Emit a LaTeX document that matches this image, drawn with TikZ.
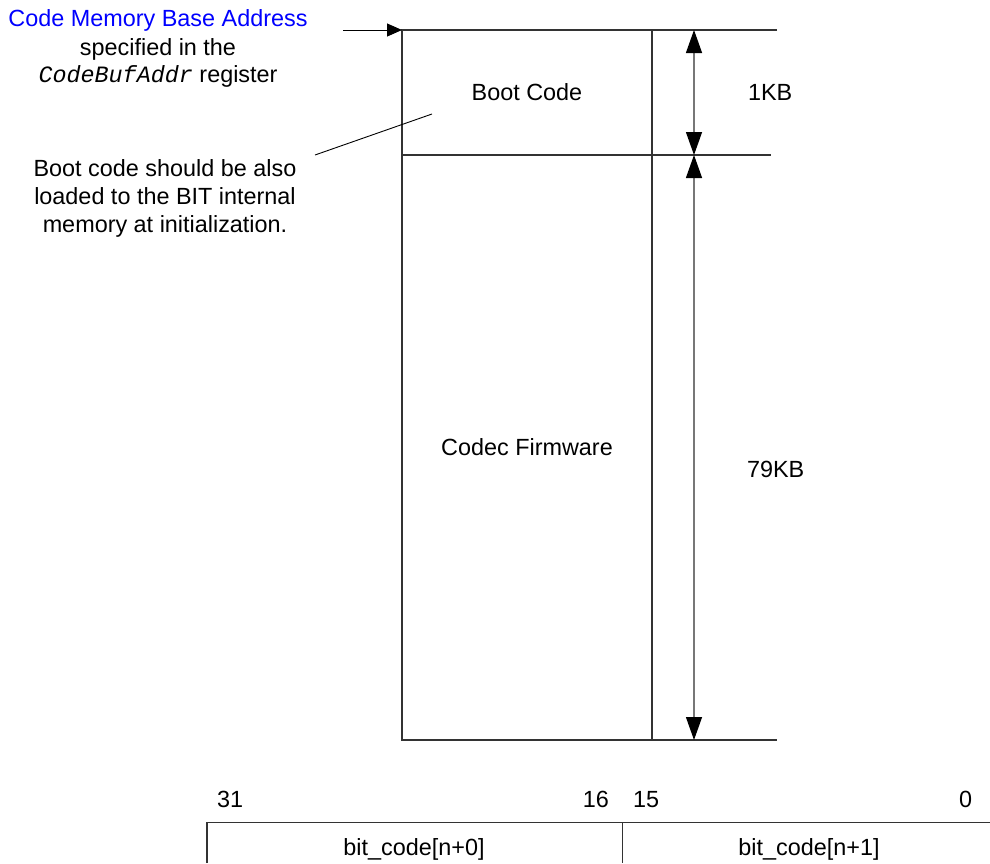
\documentclass[tikz,border=0pt]{standalone}
\usepackage{fontspec}
\setmainfont{Liberation Sans}
\setmonofont{Liberation Mono}
\usetikzlibrary{arrows.meta}
\definecolor{boxline}{HTML}{333333}
\definecolor{dimline}{HTML}{777777}
\definecolor{linkblue}{HTML}{0000FF}
\begin{document}
\begin{tikzpicture}[x=1pt,y=-1pt,
  every node/.style={inner sep=0pt,outer sep=0pt,font=\fontsize{23.4}{28}\selectfont},
  boxln/.style={draw=boxline,line width=1.3pt},
  dimln/.style={draw=dimline,line width=1.3pt,{Triangle[length=23pt,width=16pt,fill=black,color=black]}-{Triangle[length=23pt,width=16pt,fill=black,color=black]}},
  ptrln/.style={draw=black,line width=1pt,-{Triangle[length=15pt,width=13pt]}},
  leadln/.style={draw=black,line width=0.9pt},
  lbl/.style={anchor=base},
]
\useasboundingbox (0,0) rectangle (990,863);
% memory map corners
\coordinate (tl) at (402,30);
\coordinate (tm) at (652,30);
\coordinate (tr) at (777,30);
\coordinate (ml) at (402,155);
\coordinate (mr) at (771,155);
\coordinate (bl) at (402,740);
\coordinate (bm) at (652,740);
\coordinate (br) at (777,740);
\coordinate (d1) at (694,30);
\coordinate (d2) at (694,155);
\coordinate (d3) at (694,740);
\coordinate (ptrstart) at (343,30);
\coordinate (leadA) at (315,155);
\coordinate (leadB) at (432,114);

\draw[boxln] (tr) -- (tl) -- (bl) -- (br);
\draw[boxln] (ml) -- (mr);
\draw[boxln] (tm) -- (bm);
\draw[dimln] (d1) -- (d2);
\draw[dimln] (d2) -- (d3);
\draw[ptrln] (ptrstart) -- (tl);
\draw[leadln] (leadA) -- (leadB);

\node[lbl] (boot) at (527,100) {Boot Code};
\node[lbl,anchor=base west] (kb1) at (748,100) {1KB};
\node[lbl] (codec) at (527,455) {Codec Firmware};
\node[lbl,anchor=base west] (kb79) at (747,477) {79KB};

\node[lbl,text=linkblue] (addr1) at (158,26) {Code Memory Base Address};
\node[lbl] (addr2) at (158,55) {specified in the};
\node[lbl] (addr3) at (158,82) {{\ttfamily\itshape CodeBufAddr} register};

\node[lbl] (note1) at (165,176) {Boot code should be also};
\node[lbl] (note2) at (165,204) {loaded to the BIT internal};
\node[lbl] (note3) at (165,232) {memory at initialization.};

% bit layout
\coordinate (rl) at (207,863);
\coordinate (rtl) at (207,822.5);
\coordinate (rtr) at (990,822.5);
\coordinate (rdt) at (622.7,822.5);
\coordinate (rdb) at (622.7,863);
\draw[boxln] (rl) -- (rtl) -- (rtr);
\draw[boxln] (rdt) -- (rdb);
\node[lbl,anchor=base west] (b31) at (217,807) {31};
\node[lbl,anchor=base east] (b16) at (609,807) {16};
\node[lbl,anchor=base west] (b15) at (633,807) {15};
\node[lbl,anchor=base east] (b0) at (972,807) {0};
\node[lbl] (bc0) at (414,855) {bit\_code[n+0]};
\node[lbl] (bc1) at (809,855) {bit\_code[n+1]};
\end{tikzpicture}
\end{document}
